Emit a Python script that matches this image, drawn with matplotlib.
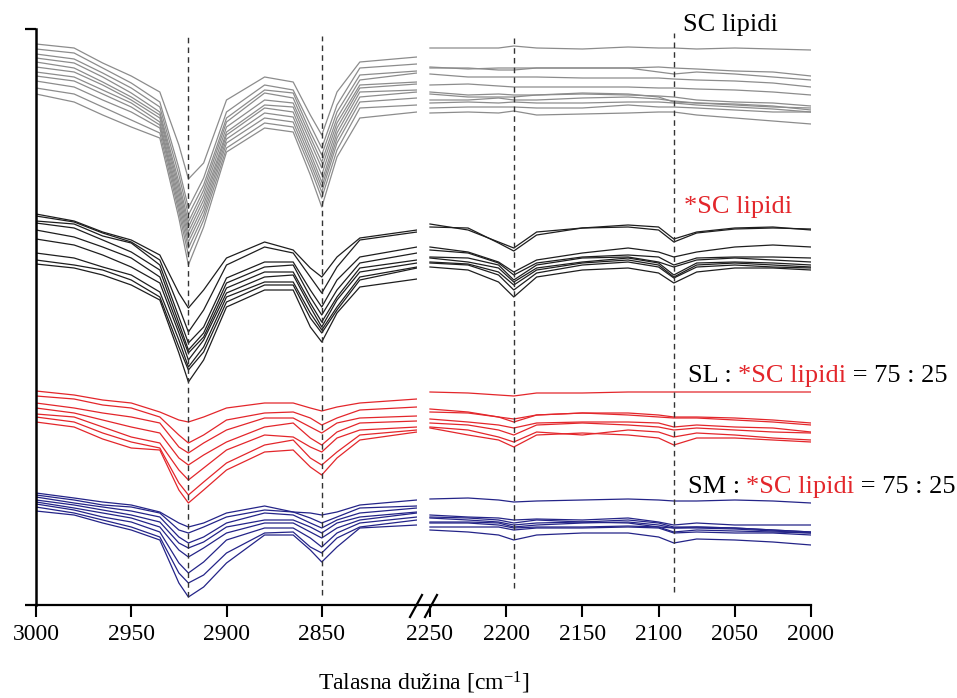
import matplotlib
matplotlib.use("Agg")
import matplotlib.pyplot as plt
from matplotlib.lines import Line2D

plt.rcParams['font.family'] = 'Liberation Serif'
plt.rcParams['mathtext.fontset'] = 'custom'
plt.rcParams['mathtext.rm'] = 'Liberation Serif'
plt.rcParams['mathtext.it'] = 'Liberation Serif:italic'

wn_left = [3000, 2980, 2965, 2950, 2935, 2925, 2920, 2912, 2900, 2880, 2865, 2856, 2850, 2842, 2830, 2800]
wn_right = [2250, 2225, 2205, 2195, 2180, 2150, 2120, 2100, 2090, 2075, 2050, 2025, 2000]

# SC lipidi (gray), stacked offsets in arbitrary units
gray_left = [
    [561, 557, 542, 529, 513, 460, 426, 442, 505, 528, 523, 490, 470, 513, 543, 548],
    [556, 552, 537, 522, 503, 437, 397, 427, 493, 520, 515, 480, 457, 500, 537, 541],
    [551, 546, 532, 517, 498, 430, 390, 420, 487, 515, 512, 473, 450, 493, 530, 534],
    [547, 542, 528, 512, 493, 423, 383, 415, 483, 512, 507, 468, 443, 487, 525, 532],
    [543, 537, 523, 508, 490, 418, 378, 410, 478, 505, 502, 463, 437, 482, 520, 523],
    [538, 533, 520, 505, 487, 413, 373, 405, 473, 500, 498, 457, 430, 477, 517, 521],
    [533, 528, 515, 502, 483, 408, 368, 400, 470, 497, 493, 452, 423, 472, 513, 515],
    [529, 524, 511, 498, 480, 403, 363, 395, 466, 492, 488, 447, 418, 467, 508, 513],
    [524, 518, 505, 493, 477, 398, 357, 390, 462, 487, 483, 442, 413, 462, 503, 507],
    [517, 511, 498, 485, 472, 393, 350, 385, 457, 482, 478, 437, 407, 455, 497, 500],
    [511, 503, 490, 478, 467, 387, 340, 378, 453, 477, 473, 430, 398, 448, 487, 493],
]
gray_right = [
    [557, 557, 557, 559, 557, 556, 558, 557, 557, 556, 557, 556, 555],
    [538, 536, 537, 537, 537, 537, 537, 538, 537, 536, 534, 533, 529],
    [537, 537, 535, 535, 537, 537, 537, 533, 531, 533, 531, 528, 525],
    [531, 528, 528, 528, 528, 527, 527, 527, 526, 525, 524, 522, 518],
    [520, 521, 519, 518, 518, 518, 518, 517, 517, 516, 515, 513, 510],
    [513, 510, 511, 510, 510, 511, 510, 509, 508, 505, 503, 502, 499],
    [511, 508, 508, 508, 510, 512, 511, 508, 503, 502, 500, 498, 497],
    [505, 505, 507, 505, 505, 507, 508, 506, 504, 502, 501, 499, 495],
    [502, 503, 502, 503, 502, 502, 503, 503, 502, 500, 498, 496, 493],
    [497, 498, 498, 498, 497, 497, 500, 498, 498, 497, 495, 493, 493],
    [492, 493, 492, 494, 490, 491, 492, 493, 493, 490, 487, 484, 481],
]

# *SC lipidi (black)
black_left = [
    [391, 384, 373, 365, 350, 312, 297, 315, 347, 363, 355, 337, 328, 348, 367, 375],
    [389, 383, 372, 363, 345, 298, 273, 295, 340, 358, 352, 328, 312, 338, 365, 373],
    [384, 381, 369, 362, 340, 288, 262, 278, 327, 343, 343, 315, 298, 325, 348, 358],
    [382, 377, 365, 353, 335, 282, 255, 272, 322, 338, 340, 308, 290, 315, 342, 352],
    [375, 368, 358, 347, 328, 277, 252, 268, 317, 333, 333, 302, 283, 308, 337, 345],
    [366, 360, 350, 338, 322, 272, 245, 265, 312, 328, 330, 298, 278, 305, 333, 342],
    [352, 347, 338, 330, 313, 265, 238, 258, 308, 323, 323, 292, 275, 298, 328, 338],
    [345, 340, 335, 325, 308, 258, 235, 253, 303, 320, 320, 287, 272, 295, 325, 337],
    [341, 337, 330, 320, 305, 252, 223, 245, 298, 315, 315, 278, 263, 292, 318, 326],
]
black_right = [
    [381, 375, 363, 357, 373, 377, 380, 378, 366, 373, 377, 378, 375],
    [378, 377, 362, 354, 370, 377, 378, 375, 363, 372, 376, 377, 376],
    [358, 353, 343, 333, 345, 352, 357, 353, 348, 353, 358, 360, 358],
    [355, 352, 342, 330, 342, 348, 350, 348, 340, 347, 348, 348, 347],
    [348, 347, 340, 325, 340, 347, 348, 343, 338, 345, 347, 345, 343],
    [347, 343, 337, 323, 337, 343, 347, 342, 330, 342, 343, 342, 340],
    [343, 341, 333, 320, 335, 342, 345, 340, 328, 340, 342, 340, 338],
    [342, 340, 330, 315, 332, 340, 343, 338, 327, 338, 340, 338, 337],
    [338, 335, 323, 308, 328, 335, 337, 332, 322, 333, 337, 337, 335],
]

# SL : *SC lipidi = 75 : 25 (red)
red_left = [
    [214, 210, 205, 202, 193, 185, 183, 188, 197, 202, 202, 197, 194, 198, 202, 206],
    [209, 206, 200, 197, 188, 170, 162, 170, 185, 192, 193, 187, 180, 187, 195, 198],
    [202, 197, 192, 188, 182, 158, 152, 162, 175, 187, 187, 178, 172, 182, 187, 189],
    [197, 192, 185, 178, 172, 147, 140, 150, 163, 178, 182, 167, 160, 173, 182, 184],
    [191, 188, 178, 168, 162, 135, 125, 137, 155, 170, 168, 158, 153, 167, 175, 178],
    [188, 183, 172, 163, 157, 122, 110, 123, 142, 160, 165, 147, 140, 153, 170, 175],
    [183, 178, 166, 157, 155, 115, 102, 115, 135, 153, 155, 138, 130, 147, 165, 173],
]
red_right = [
    [213, 212, 210, 209, 212, 212, 213, 213, 213, 213, 213, 213, 213],
    [196, 193, 188, 186, 190, 192, 192, 190, 188, 188, 187, 185, 182],
    [193, 192, 188, 183, 190, 192, 190, 188, 187, 187, 185, 183, 180],
    [186, 183, 180, 177, 182, 183, 183, 182, 178, 180, 178, 177, 173],
    [182, 180, 175, 170, 180, 182, 180, 178, 175, 177, 175, 173, 172],
    [178, 175, 168, 163, 173, 170, 175, 173, 168, 172, 170, 167, 165],
    [177, 170, 165, 158, 170, 172, 170, 167, 160, 167, 167, 165, 163],
]

# SM : *SC lipidi = 75 : 25 (navy)
navy_left = [
    [112, 107, 103, 100, 93, 82, 78, 82, 92, 99, 93, 92, 90, 93, 100, 105],
    [110, 105, 100, 98, 92, 75, 72, 78, 88, 95, 93, 87, 82, 88, 97, 99],
    [108, 102, 98, 94, 88, 68, 62, 68, 82, 92, 90, 82, 77, 85, 92, 97],
    [105, 100, 95, 90, 83, 62, 57, 63, 78, 85, 85, 78, 72, 82, 88, 93],
    [103, 97, 92, 87, 78, 55, 48, 57, 72, 82, 82, 73, 67, 77, 85, 92],
    [101, 95, 88, 83, 73, 42, 32, 43, 65, 77, 77, 67, 58, 72, 82, 88],
    [98, 92, 85, 78, 68, 32, 22, 30, 52, 72, 73, 58, 52, 67, 78, 85],
    [94, 90, 82, 75, 65, 22, 8, 18, 42, 70, 70, 55, 43, 58, 77, 80],
]
navy_right = [
    [106, 107, 105, 103, 104, 105, 106, 105, 104, 104, 105, 104, 102],
    [90, 88, 87, 85, 86, 85, 87, 83, 80, 82, 80, 80, 80],
    [88, 87, 85, 82, 85, 83, 85, 82, 78, 78, 77, 75, 73],
    [87, 85, 83, 80, 82, 83, 82, 78, 77, 78, 77, 75, 73],
    [83, 83, 82, 78, 80, 82, 83, 80, 77, 77, 76, 74, 72],
    [82, 82, 80, 77, 78, 78, 79, 78, 73, 75, 74, 73, 72],
    [78, 78, 78, 75, 77, 77, 78, 77, 72, 73, 72, 72, 70],
    [75, 73, 70, 65, 70, 72, 72, 68, 62, 66, 65, 63, 60],
]

peaks_left = [2920, 2850]
peaks_right = [2195, 2090]

groups = [
    (gray_left, gray_right, '#8c8c8c'),
    (black_left, black_right, '#1e1e1e'),
    (red_left, red_right, '#e3262b'),
    (navy_left, navy_right, '#242488'),
]

fig = plt.figure(figsize=(9.57, 6.98), dpi=100)
ax1 = fig.add_axes([36 / 957, 93 / 698, 381 / 957, 576 / 698])
ax2 = fig.add_axes([417 / 957, 93 / 698, 394 / 957, 576 / 698])

for left, right, col in groups:
    for ys in left:
        ax1.plot(wn_left, ys, color=col, lw=0.9)
    for ys in right:
        ax2.plot(wn_right, ys, color=col, lw=0.9)

# --- peak markers ---
dash = (0, (4, 3))
ax1.plot([peaks_left[0]] * 2, [8, 569], ls=dash, color='#333333', lw=1)
ax1.plot([peaks_left[1]] * 2, [10, 569], ls=dash, color='#333333', lw=1)
ax2.plot([peaks_right[0]] * 2, [17, 567], ls=dash, color='#333333', lw=1)
ax2.plot([peaks_right[1]] * 2, [13, 572], ls=dash, color='#333333', lw=1)

ax1.set_xlim(3000, 2800)
ax2.set_xlim(2258.5, 2000)
for ax in (ax1, ax2):
    ax.set_ylim(0, 576)
    ax.set_facecolor('none')
    for s in ('top', 'right'):
        ax.spines[s].set_visible(False)
    ax.spines['bottom'].set_linewidth(1.6)
    ax.tick_params(axis='x', length=8.5, width=1.5, labelsize=17, pad=5, direction='out')

ax1.spines['left'].set_linewidth(1.8)
ax1.set_xticks([3000, 2950, 2900, 2850])
ax1.set_yticks([0, 576])
ax1.set_yticklabels([])
ax1.tick_params(axis='y', length=8, width=1.6, direction='out')

ax2.spines['left'].set_visible(False)
ax2.set_xticks([2250, 2200, 2150, 2100, 2050, 2000])
ax2.set_yticks([])

# --- axis break "//" ---
for x0 in (410, 425):
    fig.add_artist(Line2D([x0 / 957, (x0 + 12) / 957], [1 - 617 / 698, 1 - 595 / 698],
                          transform=fig.transFigure, color='k', lw=1.6))

fig.text(424 / 957, 1 - 683 / 698, "Talasna dužina [cm$^{-1}$]",
         ha='center', va='center', fontsize=17)

# --- group labels ---
FS = 19
ax2.text(2084, 580, "SC lipidi", fontsize=FS, color='black', va='center', clip_on=False)
ax2.text(2083, 398, "*SC lipidi", fontsize=FS, color='#e3262b', va='center', clip_on=False)
for lab, y in (("SL", 229), ("SM", 118)):
    t1 = ax2.text(2081, y, lab + " : ", fontsize=FS, color='black', va='center', clip_on=False)
    t2 = ax2.annotate("*SC lipidi", xy=(1, 0), xycoords=t1, va='bottom', ha='left',
                      fontsize=FS, color='#e3262b', annotation_clip=False)
    ax2.annotate(" = 75 : 25", xy=(1, 0), xycoords=t2, va='bottom', ha='left',
                 fontsize=FS, color='black', annotation_clip=False)

fig.savefig("out.png", dpi=100)
